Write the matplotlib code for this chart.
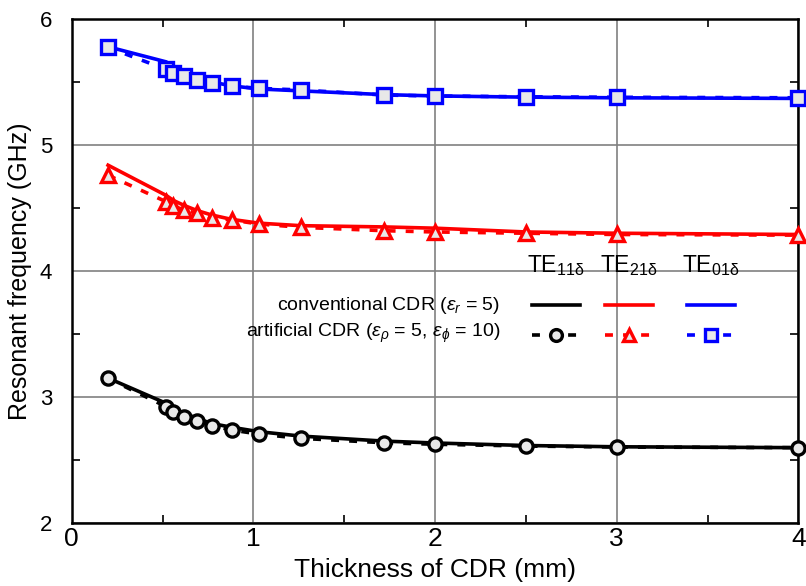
import matplotlib
matplotlib.use("Agg")
import matplotlib.pyplot as plt
from matplotlib.lines import Line2D

plt.rcParams['font.family'] = ['Liberation Sans', 'DejaVu Sans']
plt.rcParams['mathtext.fontset'] = 'custom'
plt.rcParams['mathtext.rm'] = 'Liberation Sans'
plt.rcParams['mathtext.it'] = 'Liberation Sans:italic'

# thickness of CDR (mm)
thick = [0.2, 0.52, 0.56, 0.62, 0.69, 0.77, 0.88, 1.03, 1.26, 1.72, 2.0, 2.5, 3.0, 4.0]

# conventional CDR (solid lines)
te11_conv = [3.15, 2.95, 2.91, 2.87, 2.83, 2.79, 2.76, 2.725, 2.69, 2.65, 2.635, 2.615, 2.605, 2.598]
te21_conv = [4.84, 4.60, 4.56, 4.52, 4.48, 4.445, 4.41, 4.38, 4.36, 4.35, 4.34, 4.31, 4.30, 4.29]
te01_conv = [5.78, 5.66, 5.62, 5.575, 5.535, 5.50, 5.47, 5.445, 5.43, 5.40, 5.39, 5.38, 5.375, 5.37]

# artificial CDR (dashed + markers)
te11_art = [3.148, 2.923, 2.883, 2.844, 2.81, 2.772, 2.738, 2.706, 2.672, 2.637, 2.625, 2.611, 2.603, 2.598]
te21_art = [4.76, 4.55, 4.516, 4.484, 4.458, 4.423, 4.405, 4.373, 4.347, 4.32, 4.31, 4.30, 4.29, 4.285]
te01_art = [5.775, 5.60, 5.574, 5.548, 5.52, 5.495, 5.468, 5.45, 5.437, 5.397, 5.389, 5.383, 5.379, 5.375]

colors = ['black', 'red', 'blue']
markers = ['o', '^', 's']
modes = ['TE$_{\\mathrm{11δ}}$', 'TE$_{\\mathrm{21δ}}$', 'TE$_{\\mathrm{01δ}}$']
face = '#e8e8e8'
lw = 2.6
dash = (0, (2.2, 2.8))
ms = 9.5

fig = plt.figure(figsize=(8.06, 5.86), dpi=100)
ax = fig.add_axes([0.089, 0.1075, 0.9015, 0.86])

for yc, ya, c, m in zip([te11_conv, te21_conv, te01_conv],
                        [te11_art, te21_art, te01_art], colors, markers):
    ax.plot(thick, yc, color=c, lw=lw, zorder=3)
    ax.plot(thick, ya, color=c, lw=lw, ls=dash, marker=m, ms=ms,
            mfc=face, mec=c, mew=2.4, zorder=4, clip_on=False)

ax.set_xlim(0, 4)
ax.set_ylim(2, 6)
ax.set_xticks([0, 1, 2, 3, 4])
ax.set_yticks([2, 3, 4, 5, 6])
ax.set_xticks([0.5, 1.5, 2.5, 3.5], minor=True)
ax.set_yticks([2.5, 3.5, 4.5, 5.5], minor=True)
ax.grid(True, which='major', color='#808080', lw=1.2)
ax.set_axisbelow(True)
ax.tick_params(which='both', direction='in', top=True, right=True, width=1.2)
ax.tick_params(which='major', length=0)
ax.tick_params(which='minor', length=6)
ax.tick_params(axis='x', labelsize=19, pad=3)
ax.tick_params(axis='y', labelsize=16, pad=14)
for s in ax.spines.values():
    s.set_linewidth(1.8)

ax.set_xlabel('Thickness of CDR (mm)', fontsize=19, labelpad=5)
ax.set_ylabel('Resonant frequency (GHz)', fontsize=18, labelpad=6)

# custom legend
tr = ax.transAxes
ax.text(0.59, 0.432, 'conventional CDR ($\\varepsilon_r$ = 5)', transform=tr,
        ha='right', va='center', fontsize=14)
ax.text(0.59, 0.376, 'artificial CDR ($\\varepsilon_\\rho$ = 5, $\\varepsilon_\\phi$ = 10)',
        transform=tr, ha='right', va='center', fontsize=14)
xs = [0.666, 0.767, 0.880]
for x0, c, m, name in zip(xs, colors, markers, modes):
    ax.text(x0, 0.51, name, transform=tr, ha='center', va='center', fontsize=16.5)
    ax.add_line(Line2D([x0 - 0.033, x0 + 0.033], [0.433, 0.433], transform=tr,
                       color=c, lw=lw, zorder=5))
    ax.add_line(Line2D([x0 - 0.033, x0 + 0.033], [0.373, 0.373], transform=tr,
                       color=c, lw=lw, ls=dash, zorder=5))
    ax.add_line(Line2D([x0], [0.373], transform=tr, color=c, marker=m, ms=ms - 1,
                       mfc=face, mec=c, mew=2.4, zorder=6))

fig.savefig('out.png', dpi=100)
